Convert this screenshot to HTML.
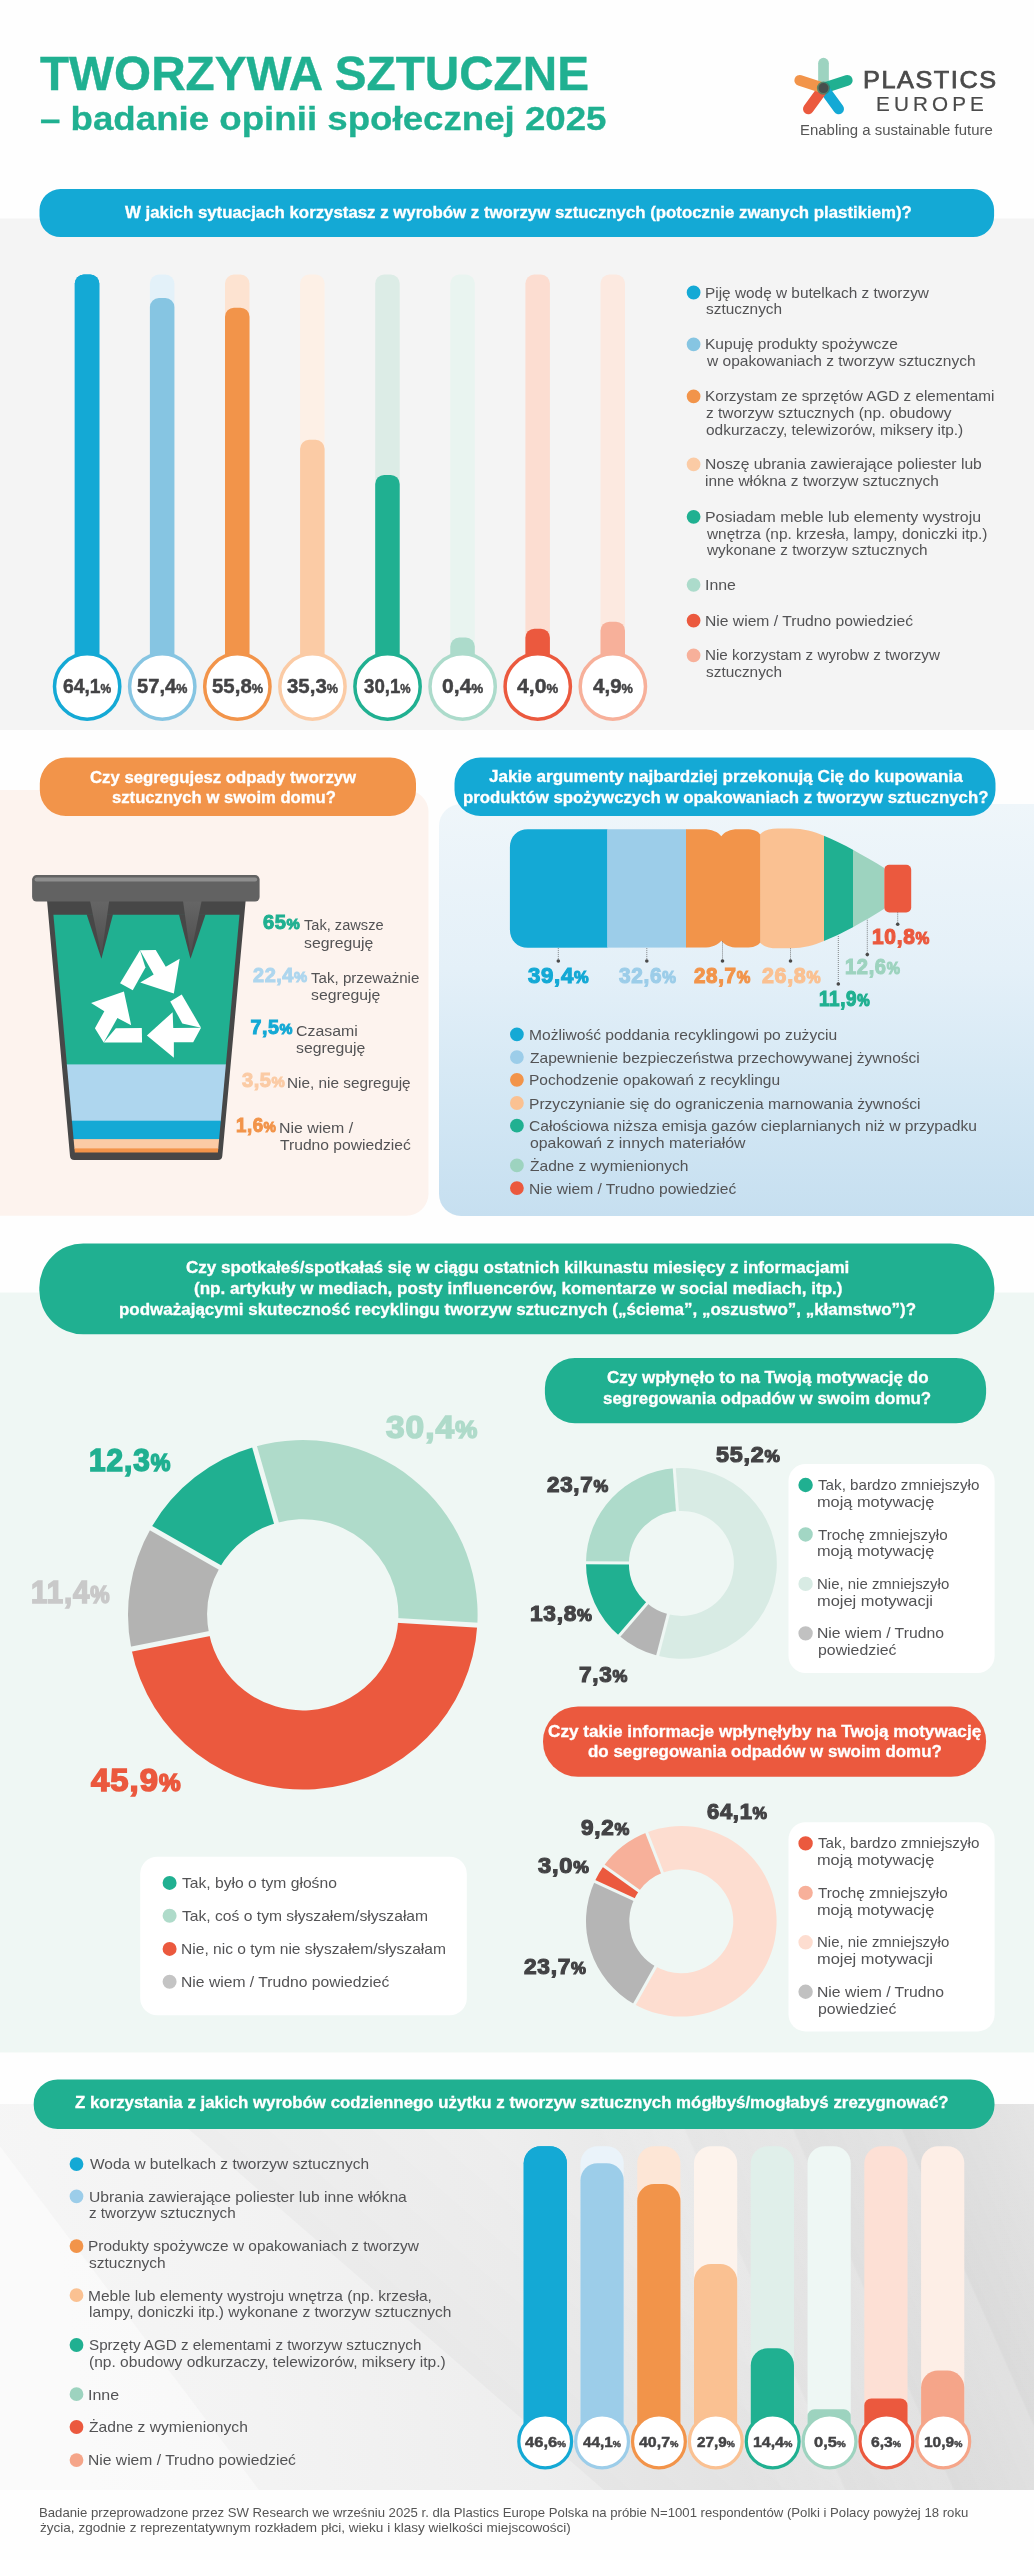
<!DOCTYPE html><html><head><meta charset="utf-8"><title>Tworzywa sztuczne</title><style>
html,body{margin:0;padding:0;overflow:hidden}body{width:1034px;height:2560px;position:relative;overflow:hidden;background:#fefefe;font-family:"Liberation Sans",sans-serif}
div,span.t,svg{position:absolute}span.t{white-space:nowrap;line-height:1;transform-origin:0 50%}
</style></head><body>
<div id="wrap" style="left:0;top:0;width:1034px;height:2560px;will-change:transform">
<svg style="left:784px;top:48px" width="80" height="80" viewBox="784 48 80 80"><line x1="823.50" y1="88.10" x2="823.50" y2="63.20" stroke="#9dd3c0" stroke-width="10.7" stroke-linecap="round"/><line x1="823.50" y1="88.10" x2="847.28" y2="80.37" stroke="#20b091" stroke-width="10.7" stroke-linecap="round"/><line x1="823.50" y1="88.10" x2="838.66" y2="108.97" stroke="#14a9d5" stroke-width="10.7" stroke-linecap="round"/><line x1="823.50" y1="88.10" x2="808.34" y2="108.97" stroke="#eb593e" stroke-width="10.7" stroke-linecap="round"/><line x1="823.50" y1="88.10" x2="799.72" y2="80.37" stroke="#f2944a" stroke-width="10.7" stroke-linecap="round"/><circle cx="823.5" cy="88.1" r="6.6" fill="#2f7f6c" opacity="0.75"/><circle cx="823.5" cy="88.1" r="5" fill="#474f4d"/></svg>
<svg style="left:0px;top:218px" width="1034" height="513" viewBox="0 218 1034 513"><path d="M0,218.5H1034V730.1H0V218.5Z" fill="#f4f4f4"/></svg>
<svg style="left:39px;top:189px" width="956" height="49" viewBox="39 189 956 49"><path d="M60.5,189.1H973.1A21,21 0 0 1 994.1,210.1V216.1A21,21 0 0 1 973.1,237.1H60.5A21,21 0 0 1 39.5,216.1V210.1A21,21 0 0 1 60.5,189.1Z" fill="#14a9d5"/></svg>
<svg style="left:74px;top:274px" width="26" height="401" viewBox="74 274 26 401"><path d="M83.8,274.6H90.3A9,9 0 0 1 99.3,283.6V674.6H74.8V283.6A9,9 0 0 1 83.8,274.6Z" fill="#14a9d5"/></svg>
<svg style="left:74px;top:274px" width="26" height="413" viewBox="74 274 26 413"><path d="M83.8,274.6H90.3A9,9 0 0 1 99.3,283.6V686.3H74.8V283.6A9,9 0 0 1 83.8,274.6Z" fill="#14a9d5"/></svg>
<svg style="left:51px;top:651px" width="72" height="72" viewBox="51 651 72 72"><circle cx="87.15" cy="686.50" r="32.65" fill="#fff" stroke="#14a9d5" stroke-width="3.5"/></svg>
<svg style="left:149px;top:274px" width="26" height="401" viewBox="149 274 26 401"><path d="M158.9,274.6H165.4A9,9 0 0 1 174.4,283.6V674.6H149.9V283.6A9,9 0 0 1 158.9,274.6Z" fill="#e3f1f9"/></svg>
<svg style="left:149px;top:298px" width="26" height="388" viewBox="149 298 26 388"><path d="M158.9,298H165.4A9,9 0 0 1 174.4,307V686H149.9V307A9,9 0 0 1 158.9,298Z" fill="#86c5e2"/></svg>
<svg style="left:126px;top:651px" width="72" height="72" viewBox="126 651 72 72"><circle cx="162.25" cy="686.50" r="32.65" fill="#fff" stroke="#86c5e2" stroke-width="3.5"/></svg>
<svg style="left:225px;top:274px" width="25" height="401" viewBox="225 274 25 401"><path d="M234,274.6H240.5A9,9 0 0 1 249.5,283.6V674.6H225V283.6A9,9 0 0 1 234,274.6Z" fill="#fde3d1"/></svg>
<svg style="left:225px;top:307px" width="25" height="379" viewBox="225 307 25 379"><path d="M234,307.7H240.5A9,9 0 0 1 249.5,316.7V686H225V316.7A9,9 0 0 1 234,307.7Z" fill="#f2944a"/></svg>
<svg style="left:201px;top:651px" width="72" height="72" viewBox="201 651 72 72"><circle cx="237.35" cy="686.50" r="32.65" fill="#fff" stroke="#f2944a" stroke-width="3.5"/></svg>
<svg style="left:300px;top:274px" width="25" height="401" viewBox="300 274 25 401"><path d="M309.1,274.6H315.6A9,9 0 0 1 324.6,283.6V674.6H300.1V283.6A9,9 0 0 1 309.1,274.6Z" fill="#fdf0e6"/></svg>
<svg style="left:300px;top:439px" width="25" height="247" viewBox="300 439 25 247"><path d="M309.1,439.8H315.6A9,9 0 0 1 324.6,448.8V686H300.1V448.8A9,9 0 0 1 309.1,439.8Z" fill="#fbcba5"/></svg>
<svg style="left:277px;top:651px" width="72" height="72" viewBox="277 651 72 72"><circle cx="312.45" cy="686.50" r="32.65" fill="#fff" stroke="#fbcba5" stroke-width="3.5"/></svg>
<svg style="left:375px;top:274px" width="25" height="401" viewBox="375 274 25 401"><path d="M384.2,274.6H390.7A9,9 0 0 1 399.7,283.6V674.6H375.2V283.6A9,9 0 0 1 384.2,274.6Z" fill="#dcece6"/></svg>
<svg style="left:375px;top:474px" width="25" height="212" viewBox="375 474 25 212"><path d="M384.2,474.9H390.7A9,9 0 0 1 399.7,483.9V686H375.2V483.9A9,9 0 0 1 384.2,474.9Z" fill="#20b091"/></svg>
<svg style="left:352px;top:651px" width="72" height="72" viewBox="352 651 72 72"><circle cx="387.55" cy="686.50" r="32.65" fill="#fff" stroke="#20b091" stroke-width="3.5"/></svg>
<svg style="left:450px;top:274px" width="25" height="401" viewBox="450 274 25 401"><path d="M459.3,274.6H465.8A9,9 0 0 1 474.8,283.6V674.6H450.3V283.6A9,9 0 0 1 459.3,274.6Z" fill="#e9f4f0"/></svg>
<svg style="left:450px;top:637px" width="25" height="49" viewBox="450 637 25 49"><path d="M459.3,637.6H465.8A9,9 0 0 1 474.8,646.6V686H450.3V646.6A9,9 0 0 1 459.3,637.6Z" fill="#acdbcb"/></svg>
<svg style="left:427px;top:651px" width="72" height="72" viewBox="427 651 72 72"><circle cx="462.65" cy="686.50" r="32.65" fill="#fff" stroke="#acdbcb" stroke-width="3.5"/></svg>
<svg style="left:525px;top:274px" width="25" height="401" viewBox="525 274 25 401"><path d="M534.4,274.6H540.9A9,9 0 0 1 549.9,283.6V674.6H525.4V283.6A9,9 0 0 1 534.4,274.6Z" fill="#fcddd1"/></svg>
<svg style="left:525px;top:628px" width="25" height="58" viewBox="525 628 25 58"><path d="M534.4,628.7H540.9A9,9 0 0 1 549.9,637.7V686H525.4V637.7A9,9 0 0 1 534.4,628.7Z" fill="#eb593e"/></svg>
<svg style="left:502px;top:651px" width="72" height="72" viewBox="502 651 72 72"><circle cx="537.75" cy="686.50" r="32.65" fill="#fff" stroke="#eb593e" stroke-width="3.5"/></svg>
<svg style="left:600px;top:274px" width="25" height="401" viewBox="600 274 25 401"><path d="M609.5,274.6H616A9,9 0 0 1 625,283.6V674.6H600.5V283.6A9,9 0 0 1 609.5,274.6Z" fill="#fce9e0"/></svg>
<svg style="left:600px;top:621px" width="25" height="65" viewBox="600 621 25 65"><path d="M609.5,621.7H616A9,9 0 0 1 625,630.7V686H600.5V630.7A9,9 0 0 1 609.5,621.7Z" fill="#f7b09a"/></svg>
<svg style="left:577px;top:651px" width="72" height="72" viewBox="577 651 72 72"><circle cx="612.85" cy="686.50" r="32.65" fill="#fff" stroke="#f7b09a" stroke-width="3.5"/></svg>
<svg style="left:686px;top:285px" width="15" height="15" viewBox="686 285 15 15"><path d="M693.6,285.6H693.6A6.9,6.9 0 0 1 700.5,292.5V292.5A6.9,6.9 0 0 1 693.6,299.4H693.6A6.9,6.9 0 0 1 686.7,292.5V292.5A6.9,6.9 0 0 1 693.6,285.6Z" fill="#14a9d5"/></svg>
<svg style="left:686px;top:337px" width="15" height="15" viewBox="686 337 15 15"><path d="M693.6,337.4H693.6A6.9,6.9 0 0 1 700.5,344.3V344.3A6.9,6.9 0 0 1 693.6,351.2H693.6A6.9,6.9 0 0 1 686.7,344.3V344.3A6.9,6.9 0 0 1 693.6,337.4Z" fill="#86c5e2"/></svg>
<svg style="left:686px;top:389px" width="15" height="15" viewBox="686 389 15 15"><path d="M693.6,389.4H693.6A6.9,6.9 0 0 1 700.5,396.3V396.3A6.9,6.9 0 0 1 693.6,403.2H693.6A6.9,6.9 0 0 1 686.7,396.3V396.3A6.9,6.9 0 0 1 693.6,389.4Z" fill="#f2944a"/></svg>
<svg style="left:686px;top:457px" width="15" height="15" viewBox="686 457 15 15"><path d="M693.6,457.4H693.6A6.9,6.9 0 0 1 700.5,464.3V464.3A6.9,6.9 0 0 1 693.6,471.2H693.6A6.9,6.9 0 0 1 686.7,464.3V464.3A6.9,6.9 0 0 1 693.6,457.4Z" fill="#fbcba5"/></svg>
<svg style="left:686px;top:509px" width="15" height="15" viewBox="686 509 15 15"><path d="M693.6,509.9H693.6A6.9,6.9 0 0 1 700.5,516.8V516.8A6.9,6.9 0 0 1 693.6,523.7H693.6A6.9,6.9 0 0 1 686.7,516.8V516.8A6.9,6.9 0 0 1 693.6,509.9Z" fill="#20b091"/></svg>
<svg style="left:686px;top:577px" width="15" height="15" viewBox="686 577 15 15"><path d="M693.6,577.9H693.6A6.9,6.9 0 0 1 700.5,584.8V584.8A6.9,6.9 0 0 1 693.6,591.7H693.6A6.9,6.9 0 0 1 686.7,584.8V584.8A6.9,6.9 0 0 1 693.6,577.9Z" fill="#acdbcb"/></svg>
<svg style="left:686px;top:613px" width="15" height="15" viewBox="686 613 15 15"><path d="M693.6,613.7H693.6A6.9,6.9 0 0 1 700.5,620.6V620.6A6.9,6.9 0 0 1 693.6,627.5H693.6A6.9,6.9 0 0 1 686.7,620.6V620.6A6.9,6.9 0 0 1 693.6,613.7Z" fill="#eb593e"/></svg>
<svg style="left:686px;top:648px" width="15" height="15" viewBox="686 648 15 15"><path d="M693.6,648.4H693.6A6.9,6.9 0 0 1 700.5,655.3V655.3A6.9,6.9 0 0 1 693.6,662.2H693.6A6.9,6.9 0 0 1 686.7,655.3V655.3A6.9,6.9 0 0 1 693.6,648.4Z" fill="#f7b09a"/></svg>
<svg style="left:0px;top:790px" width="429" height="426" viewBox="0 790 429 426"><path d="M0,790H406.5A22,22 0 0 1 428.5,812V1193.7A22,22 0 0 1 406.5,1215.7H0V790Z" fill="#fdf3ee"/></svg>
<svg style="left:39px;top:757px" width="377" height="60" viewBox="39 757 377 60"><path d="M65.8,757.6H390A26,26 0 0 1 416,783.6V790.1A26,26 0 0 1 390,816.1H65.8A26,26 0 0 1 39.8,790.1V783.6A26,26 0 0 1 65.8,757.6Z" fill="#f2944a"/></svg>
<svg style="left:20px;top:860px" width="260" height="312" viewBox="20 860 260 312"><defs><clipPath id="binin"><polygon points="53.4,914.8 239.5,914.8 217.9,1152.4 74.8,1152.4"/></clipPath><linearGradient id="spk" x1="0" y1="0" x2="0" y2="1"><stop offset="0" stop-color="#666"/><stop offset="1" stop-color="#4d4d4d"/></linearGradient></defs><path d="M46.9,899 L245.8,899 L222.3,1156 Q222,1160 218,1160 L74.2,1160 Q70.3,1160 70,1156 Z" fill="#474747"/><g clip-path="url(#binin)"><rect x="40" y="914" width="220" height="151" fill="#20b091"/><rect x="40" y="1064.4" width="220" height="57" fill="#aed6ee"/><rect x="40" y="1120.7" width="220" height="19" fill="#14a9d5"/><rect x="40" y="1139.1" width="220" height="10" fill="#fbcba5"/><rect x="40" y="1148.4" width="220" height="6" fill="#f2944a"/></g><polygon points="86.6,914.3 113,914.3 101.4,958.8" fill="#474747"/><polygon points="178.9,914.3 205.6,914.3 190.5,958.8" fill="#474747"/><polygon points="89.9,900 109.3,900 101.4,955.5" fill="url(#spk)"/><polygon points="182.9,900 201.8,900 190.5,955.5" fill="url(#spk)"/><rect x="32.1" y="875.1" width="227.5" height="26.4" rx="4.5" fill="#626262"/><rect x="34.5" y="877.4" width="222.7" height="4" rx="2" fill="#8e8e8e"/><g transform="translate(85,940) scale(0.12089)" fill="#fff"><polygon points="290,357 455,85 500,228 395,415"/><polygon points="455,85 585,82 668,222 783,155 735,442 457,352 568,285"/><polygon points="705,508 800,450 960,725 805,690"/><polygon points="960,725 895,845 735,845 735,975 512,790 725,597 730,728"/><polygon points="155,848 255,730 470,728 472,848"/><polygon points="155,848 82,730 160,590 50,522 322,425 382,705 268,645"/></g></svg>
<div style="left:439.0px;top:804.3px;width:595.0px;height:411.5px;background:linear-gradient(180deg,#eff6fa 0%,#e4f0f8 40%,#d3e7f4 72%,#c6dff0 100%);border-radius:22px 0 0 22px;"></div>
<svg style="left:454px;top:757px" width="542" height="60" viewBox="454 757 542 60"><path d="M480.5,757.6H969.5A26,26 0 0 1 995.5,783.6V790.1A26,26 0 0 1 969.5,816.1H480.5A26,26 0 0 1 454.5,790.1V783.6A26,26 0 0 1 480.5,757.6Z" fill="#14a9d5"/></svg>
<svg style="left:500px;top:815px" width="440" height="205" viewBox="500 815 440 205"><defs><clipPath id="bt"><path d="M527.9,829.2 L703,829.3 C712,829.3 718,832 721.3,836.2 C724.6,832 730,829.3 738,829.3 L746,829.3 C753,829.3 758,831 760.1,834.4 C763,830.5 770,828.6 777.5,828.6 L791.4,828.6 C803,828.6 814,831.5 823.9,835.8 C834,840 844,845 852.9,849.7 C864,856 875,862 884.3,868.1 L884.3,908.80 C875.00,914.90 864.00,920.90 852.90,927.20 C844.00,931.90 834.00,936.90 823.90,941.10 C814.00,945.40 803.00,948.30 791.40,948.30 L777.50,948.30 C770.00,948.30 763.00,946.40 760.10,942.50 C758.00,945.90 753.00,947.60 746.00,947.60 L738.00,947.60 C730.00,947.60 724.60,944.90 721.30,940.70 C718.00,944.90 712.00,947.60 703.00,947.60 L527.90,947.70 C517.5,947.7 509.9,940.5 509.9,929.7 L509.9,847.2 C509.9,836.5 517.5,829.2 527.9,829.2 Z"/></clipPath></defs><g clip-path="url(#bt)"><rect x="505" y="820" width="102.6" height="140" fill="#14a9d5"/><rect x="607.2" y="820" width="79.2" height="140" fill="#9ccde9"/><rect x="686" y="820" width="74.7" height="140" fill="#f2944a"/><rect x="760.3" y="820" width="64.1" height="140" fill="#fac192"/><rect x="824" y="820" width="29.4" height="140" fill="#20b091"/><rect x="853" y="820" width="37.4" height="140" fill="#9dd3bf"/></g><rect x="884.3" y="864.8" width="26.9" height="47.6" rx="5" fill="#eb593e"/><line x1="558.3" y1="948.2" x2="558.3" y2="961" stroke="#555" stroke-width="0.8" stroke-dasharray="0.9,1.1"/><circle cx="558.3" cy="961" r="1.8" fill="#4a4a4a"/><line x1="646.8" y1="948.2" x2="646.8" y2="961" stroke="#555" stroke-width="0.8" stroke-dasharray="0.9,1.1"/><circle cx="646.8" cy="961" r="1.8" fill="#4a4a4a"/><line x1="722.5" y1="941.5" x2="722.5" y2="961" stroke="#555" stroke-width="0.8" stroke-dasharray="0.9,1.1"/><circle cx="722.5" cy="961" r="1.8" fill="#4a4a4a"/><line x1="790.5" y1="948.4" x2="790.5" y2="961" stroke="#555" stroke-width="0.8" stroke-dasharray="0.9,1.1"/><circle cx="790.5" cy="961" r="1.8" fill="#4a4a4a"/><line x1="838.3" y1="936" x2="838.3" y2="984" stroke="#555" stroke-width="0.8" stroke-dasharray="0.9,1.1"/><circle cx="838.3" cy="984" r="1.8" fill="#4a4a4a"/><line x1="867.3" y1="919.8" x2="867.3" y2="954.6" stroke="#555" stroke-width="0.8" stroke-dasharray="0.9,1.1"/><circle cx="867.3" cy="954.6" r="1.8" fill="#4a4a4a"/><line x1="897.7" y1="912.4" x2="897.7" y2="924.2" stroke="#555" stroke-width="0.8" stroke-dasharray="0.9,1.1"/><circle cx="897.7" cy="924.2" r="1.8" fill="#4a4a4a"/></svg>
<svg style="left:510px;top:1027px" width="14" height="15" viewBox="510 1027 14 15"><path d="M516.9,1027.4H516.9A6.9,6.9 0 0 1 523.8,1034.3V1034.3A6.9,6.9 0 0 1 516.9,1041.2H516.9A6.9,6.9 0 0 1 510,1034.3V1034.3A6.9,6.9 0 0 1 516.9,1027.4Z" fill="#14a9d5"/></svg>
<svg style="left:510px;top:1050px" width="14" height="14" viewBox="510 1050 14 14"><path d="M516.9,1050.2H516.9A6.9,6.9 0 0 1 523.8,1057.1V1057.1A6.9,6.9 0 0 1 516.9,1064H516.9A6.9,6.9 0 0 1 510,1057.1V1057.1A6.9,6.9 0 0 1 516.9,1050.2Z" fill="#9ccde9"/></svg>
<svg style="left:510px;top:1072px" width="14" height="15" viewBox="510 1072 14 15"><path d="M516.9,1072.9H516.9A6.9,6.9 0 0 1 523.8,1079.8V1079.8A6.9,6.9 0 0 1 516.9,1086.7H516.9A6.9,6.9 0 0 1 510,1079.8V1079.8A6.9,6.9 0 0 1 516.9,1072.9Z" fill="#f2944a"/></svg>
<svg style="left:510px;top:1096px" width="14" height="14" viewBox="510 1096 14 14"><path d="M516.9,1096.1H516.9A6.9,6.9 0 0 1 523.8,1103V1103A6.9,6.9 0 0 1 516.9,1109.9H516.9A6.9,6.9 0 0 1 510,1103V1103A6.9,6.9 0 0 1 516.9,1096.1Z" fill="#fac192"/></svg>
<svg style="left:510px;top:1118px" width="14" height="15" viewBox="510 1118 14 15"><path d="M516.9,1118.8H516.9A6.9,6.9 0 0 1 523.8,1125.7V1125.7A6.9,6.9 0 0 1 516.9,1132.6H516.9A6.9,6.9 0 0 1 510,1125.7V1125.7A6.9,6.9 0 0 1 516.9,1118.8Z" fill="#20b091"/></svg>
<svg style="left:510px;top:1158px" width="14" height="15" viewBox="510 1158 14 15"><path d="M516.9,1158.5H516.9A6.9,6.9 0 0 1 523.8,1165.4V1165.4A6.9,6.9 0 0 1 516.9,1172.3H516.9A6.9,6.9 0 0 1 510,1165.4V1165.4A6.9,6.9 0 0 1 516.9,1158.5Z" fill="#9dd3bf"/></svg>
<svg style="left:510px;top:1181px" width="14" height="14" viewBox="510 1181 14 14"><path d="M516.9,1181.2H516.9A6.9,6.9 0 0 1 523.8,1188.1V1188.1A6.9,6.9 0 0 1 516.9,1195H516.9A6.9,6.9 0 0 1 510,1188.1V1188.1A6.9,6.9 0 0 1 516.9,1181.2Z" fill="#eb593e"/></svg>
<svg style="left:0px;top:1292px" width="1034" height="761" viewBox="0 1292 1034 761"><path d="M0,1292.6H1034V2052.4H0V1292.6Z" fill="#eff7f4"/></svg>
<svg style="left:39px;top:1243px" width="956" height="92" viewBox="39 1243 956 92"><path d="M83.3,1243.5H950.4A44,44 0 0 1 994.4,1287.5V1290.3A44,44 0 0 1 950.4,1334.3H83.3A44,44 0 0 1 39.3,1290.3V1287.5A44,44 0 0 1 83.3,1243.5Z" fill="#20b091"/></svg>
<svg style="left:125.9px;top:1438.2px" width="353.6" height="353.6" viewBox="125.9 1438.2 353.6 353.6"><path d="M150.86,1528.39 A174.8,174.8 0 0 1 254.46,1446.99 L276.32,1523.11 A95.6,95.6 0 0 0 219.66,1567.63 Z" fill="#20b091"/><path d="M254.46,1446.99 A174.8,174.8 0 0 1 477.19,1625.43 L398.13,1620.70 A95.6,95.6 0 0 0 276.32,1523.11 Z" fill="#afdbca"/><path d="M477.19,1625.43 A174.8,174.8 0 0 1 131.31,1649.37 L208.97,1633.80 A95.6,95.6 0 0 0 398.13,1620.70 Z" fill="#eb593e"/><path d="M131.31,1649.37 A174.8,174.8 0 0 1 150.86,1528.39 L219.66,1567.63 A95.6,95.6 0 0 0 208.97,1633.80 Z" fill="#b3b3b2"/><line x1="221.40" y1="1568.63" x2="149.13" y2="1527.40" stroke="#eff7f4" stroke-width="5"/><line x1="276.87" y1="1525.03" x2="253.91" y2="1445.07" stroke="#eff7f4" stroke-width="5"/><line x1="396.13" y1="1620.58" x2="479.19" y2="1625.55" stroke="#eff7f4" stroke-width="5"/><line x1="210.93" y1="1633.40" x2="129.35" y2="1649.76" stroke="#eff7f4" stroke-width="5"/></svg>
<svg style="left:140px;top:1856px" width="327" height="160" viewBox="140 1856 327 160"><path d="M157.2,1856.8H449.8A17,17 0 0 1 466.8,1873.8V1998.3A17,17 0 0 1 449.8,2015.3H157.2A17,17 0 0 1 140.2,1998.3V1873.8A17,17 0 0 1 157.2,1856.8Z" fill="#fff"/></svg>
<svg style="left:162px;top:1875px" width="15" height="15" viewBox="162 1875 15 15"><path d="M169.6,1875.9H169.6A7,7 0 0 1 176.6,1882.9V1882.9A7,7 0 0 1 169.6,1889.9H169.6A7,7 0 0 1 162.6,1882.9V1882.9A7,7 0 0 1 169.6,1875.9Z" fill="#20b091"/></svg>
<svg style="left:162px;top:1908px" width="15" height="15" viewBox="162 1908 15 15"><path d="M169.6,1908.8H169.6A7,7 0 0 1 176.6,1915.8V1915.8A7,7 0 0 1 169.6,1922.8H169.6A7,7 0 0 1 162.6,1915.8V1915.8A7,7 0 0 1 169.6,1908.8Z" fill="#afdbca"/></svg>
<svg style="left:162px;top:1941px" width="15" height="15" viewBox="162 1941 15 15"><path d="M169.6,1941.9H169.6A7,7 0 0 1 176.6,1948.9V1948.9A7,7 0 0 1 169.6,1955.9H169.6A7,7 0 0 1 162.6,1948.9V1948.9A7,7 0 0 1 169.6,1941.9Z" fill="#eb593e"/></svg>
<svg style="left:162px;top:1974px" width="15" height="15" viewBox="162 1974 15 15"><path d="M169.6,1974.8H169.6A7,7 0 0 1 176.6,1981.8V1981.8A7,7 0 0 1 169.6,1988.8H169.6A7,7 0 0 1 162.6,1981.8V1981.8A7,7 0 0 1 169.6,1974.8Z" fill="#c4c4c4"/></svg>
<svg style="left:544px;top:1357px" width="443" height="67" viewBox="544 1357 443 67"><path d="M574.9,1357.9H956.1A30,30 0 0 1 986.1,1387.9V1393.3A30,30 0 0 1 956.1,1423.3H574.9A30,30 0 0 1 544.9,1393.3V1387.9A30,30 0 0 1 574.9,1357.9Z" fill="#20b091"/></svg>
<svg style="left:543px;top:1706px" width="444" height="71" viewBox="543 1706 444 71"><path d="M578,1706.4H951.1A35,35 0 0 1 986.1,1741.4V1741.8A35,35 0 0 1 951.1,1776.8H578A35,35 0 0 1 543,1741.8V1741.4A35,35 0 0 1 578,1706.4Z" fill="#eb593e"/></svg>
<svg style="left:583.8px;top:1465.6px" width="194.8" height="194.8" viewBox="583.8 1465.6 194.8 194.8"><path d="M674.05,1467.87 A95.4,95.4 0 1 1 657.44,1655.39 L668.13,1613.85 A52.5,52.5 0 1 0 677.26,1510.65 Z" fill="#d8ebe4"/><path d="M657.44,1655.39 A95.4,95.4 0 0 1 618.99,1635.33 L646.96,1602.80 A52.5,52.5 0 0 0 668.13,1613.85 Z" fill="#b4b4b4"/><path d="M618.99,1635.33 A95.4,95.4 0 0 1 585.80,1562.37 L628.70,1562.65 A52.5,52.5 0 0 0 646.96,1602.80 Z" fill="#20b091"/><path d="M585.80,1562.37 A95.4,95.4 0 0 1 674.05,1467.87 L677.26,1510.65 A52.5,52.5 0 0 0 628.70,1562.65 Z" fill="#aedbcb"/><line x1="677.41" y1="1512.64" x2="673.90" y2="1465.87" stroke="#eff7f4" stroke-width="3"/><line x1="668.62" y1="1611.91" x2="656.94" y2="1657.33" stroke="#eff7f4" stroke-width="3"/><line x1="648.27" y1="1601.29" x2="617.69" y2="1636.84" stroke="#eff7f4" stroke-width="3"/><line x1="630.70" y1="1562.67" x2="583.80" y2="1562.35" stroke="#eff7f4" stroke-width="3"/></svg>
<svg style="left:584.0px;top:1824.0px" width="194.6" height="194.6" viewBox="584.0 1824.0 194.6 194.6"><path d="M646.68,1832.51 A95.3,95.3 0 1 1 634.43,2004.28 L655.73,1966.58 A52,52 0 1 0 662.41,1872.85 Z" fill="#fdddd0"/><path d="M634.43,2004.28 A95.3,95.3 0 0 1 594.77,1881.36 L634.09,1899.50 A52,52 0 0 0 655.73,1966.58 Z" fill="#b5b5b5"/><path d="M594.77,1881.36 A95.3,95.3 0 0 1 603.79,1865.85 L639.01,1891.04 A52,52 0 0 0 634.09,1899.50 Z" fill="#eb593e"/><path d="M603.79,1865.85 A95.3,95.3 0 0 1 646.68,1832.51 L662.41,1872.85 A52,52 0 0 0 639.01,1891.04 Z" fill="#f7b09a"/><line x1="663.14" y1="1874.72" x2="645.96" y2="1830.65" stroke="#eff7f4" stroke-width="3"/><line x1="656.71" y1="1964.83" x2="633.45" y2="2006.02" stroke="#eff7f4" stroke-width="3"/><line x1="635.90" y1="1900.34" x2="592.96" y2="1880.52" stroke="#eff7f4" stroke-width="3"/><line x1="640.63" y1="1892.21" x2="602.17" y2="1864.69" stroke="#eff7f4" stroke-width="3"/></svg>
<svg style="left:788px;top:1463px" width="207" height="210" viewBox="788 1463 207 210"><path d="M805.5,1463.9H977.6A17,17 0 0 1 994.6,1480.9V1656A17,17 0 0 1 977.6,1673H805.5A17,17 0 0 1 788.5,1656V1480.9A17,17 0 0 1 805.5,1463.9Z" fill="#fff"/></svg>
<svg style="left:798px;top:1477px" width="15" height="16" viewBox="798 1477 15 16"><path d="M805.6,1477.8H805.6A7.2,7.2 0 0 1 812.8,1485V1485A7.2,7.2 0 0 1 805.6,1492.2H805.6A7.2,7.2 0 0 1 798.4,1485V1485A7.2,7.2 0 0 1 805.6,1477.8Z" fill="#20b091"/></svg>
<svg style="left:798px;top:1527px" width="15" height="15" viewBox="798 1527 15 15"><path d="M805.6,1527.25H805.6A7.2,7.2 0 0 1 812.8,1534.45V1534.45A7.2,7.2 0 0 1 805.6,1541.65H805.6A7.2,7.2 0 0 1 798.4,1534.45V1534.45A7.2,7.2 0 0 1 805.6,1527.25Z" fill="#a2d6c4"/></svg>
<svg style="left:798px;top:1576px" width="15" height="16" viewBox="798 1576 15 16"><path d="M805.6,1576.7H805.6A7.2,7.2 0 0 1 812.8,1583.9V1583.9A7.2,7.2 0 0 1 805.6,1591.1H805.6A7.2,7.2 0 0 1 798.4,1583.9V1583.9A7.2,7.2 0 0 1 805.6,1576.7Z" fill="#d8ebe4"/></svg>
<svg style="left:798px;top:1626px" width="15" height="15" viewBox="798 1626 15 15"><path d="M805.6,1626.15H805.6A7.2,7.2 0 0 1 812.8,1633.35V1633.35A7.2,7.2 0 0 1 805.6,1640.55H805.6A7.2,7.2 0 0 1 798.4,1633.35V1633.35A7.2,7.2 0 0 1 805.6,1626.15Z" fill="#c1c1c1"/></svg>
<svg style="left:788px;top:1822px" width="207" height="210" viewBox="788 1822 207 210"><path d="M805.5,1822.3H977.6A17,17 0 0 1 994.6,1839.3V2014.4A17,17 0 0 1 977.6,2031.4H805.5A17,17 0 0 1 788.5,2014.4V1839.3A17,17 0 0 1 805.5,1822.3Z" fill="#fff"/></svg>
<svg style="left:798px;top:1836px" width="15" height="15" viewBox="798 1836 15 15"><path d="M805.6,1836.2H805.6A7.2,7.2 0 0 1 812.8,1843.4V1843.4A7.2,7.2 0 0 1 805.6,1850.6H805.6A7.2,7.2 0 0 1 798.4,1843.4V1843.4A7.2,7.2 0 0 1 805.6,1836.2Z" fill="#eb593e"/></svg>
<svg style="left:798px;top:1885px" width="15" height="16" viewBox="798 1885 15 16"><path d="M805.6,1885.65H805.6A7.2,7.2 0 0 1 812.8,1892.85V1892.85A7.2,7.2 0 0 1 805.6,1900.05H805.6A7.2,7.2 0 0 1 798.4,1892.85V1892.85A7.2,7.2 0 0 1 805.6,1885.65Z" fill="#f7b09a"/></svg>
<svg style="left:798px;top:1935px" width="15" height="15" viewBox="798 1935 15 15"><path d="M805.6,1935.1H805.6A7.2,7.2 0 0 1 812.8,1942.3V1942.3A7.2,7.2 0 0 1 805.6,1949.5H805.6A7.2,7.2 0 0 1 798.4,1942.3V1942.3A7.2,7.2 0 0 1 805.6,1935.1Z" fill="#fdddd0"/></svg>
<svg style="left:798px;top:1984px" width="15" height="15" viewBox="798 1984 15 15"><path d="M805.6,1984.55H805.6A7.2,7.2 0 0 1 812.8,1991.75V1991.75A7.2,7.2 0 0 1 805.6,1998.95H805.6A7.2,7.2 0 0 1 798.4,1991.75V1991.75A7.2,7.2 0 0 1 805.6,1984.55Z" fill="#c1c1c1"/></svg>
<div style="left:0.0px;top:2104.2px;width:1034.0px;height:386.2px;background:linear-gradient(53deg,rgba(255,255,255,.45) 0,rgba(255,255,255,.45) 19.5%,rgba(255,255,255,0) 19.6%,rgba(255,255,255,0) 100%),linear-gradient(41deg,rgba(0,0,0,0) 0,rgba(0,0,0,0) 40.8%,rgba(0,0,0,.022) 40.9%,rgba(0,0,0,0) 62%,rgba(0,0,0,0) 100%),linear-gradient(66deg,rgba(255,255,255,0) 0,rgba(255,255,255,0) 62%,rgba(255,255,255,.16) 70%,rgba(255,255,255,0) 70.2%,rgba(255,255,255,.16) 79%,rgba(255,255,255,0) 79.2%,rgba(255,255,255,.18) 88%,rgba(255,255,255,0) 88.2%,rgba(255,255,255,.3) 100%),linear-gradient(82deg,#f6f6f6 0%,#f3f3f3 25%,#eeeeee 50%,#e6e6e6 68%,#dcdcdc 88%,#dadada 100%);border-radius:0px;"></div>
<svg style="left:33px;top:2079px" width="962" height="51" viewBox="33 2079 962 51"><path d="M57.7,2079.5H970.5A24,24 0 0 1 994.5,2103.5V2105.1A24,24 0 0 1 970.5,2129.1H57.7A24,24 0 0 1 33.7,2105.1V2103.5A24,24 0 0 1 57.7,2079.5Z" fill="#20b091"/></svg>
<svg style="left:69px;top:2157px" width="15" height="14" viewBox="69 2157 15 14"><path d="M76.5,2157.2H76.5A6.9,6.9 0 0 1 83.4,2164.1V2164.1A6.9,6.9 0 0 1 76.5,2171H76.5A6.9,6.9 0 0 1 69.6,2164.1V2164.1A6.9,6.9 0 0 1 76.5,2157.2Z" fill="#14a9d5"/></svg>
<svg style="left:69px;top:2189px" width="15" height="15" viewBox="69 2189 15 15"><path d="M76.5,2189.4H76.5A6.9,6.9 0 0 1 83.4,2196.3V2196.3A6.9,6.9 0 0 1 76.5,2203.2H76.5A6.9,6.9 0 0 1 69.6,2196.3V2196.3A6.9,6.9 0 0 1 76.5,2189.4Z" fill="#9ccde9"/></svg>
<svg style="left:69px;top:2239px" width="15" height="14" viewBox="69 2239 15 14"><path d="M76.5,2239.2H76.5A6.9,6.9 0 0 1 83.4,2246.1V2246.1A6.9,6.9 0 0 1 76.5,2253H76.5A6.9,6.9 0 0 1 69.6,2246.1V2246.1A6.9,6.9 0 0 1 76.5,2239.2Z" fill="#f2944a"/></svg>
<svg style="left:69px;top:2288px" width="15" height="15" viewBox="69 2288 15 15"><path d="M76.5,2288.3H76.5A6.9,6.9 0 0 1 83.4,2295.2V2295.2A6.9,6.9 0 0 1 76.5,2302.1H76.5A6.9,6.9 0 0 1 69.6,2295.2V2295.2A6.9,6.9 0 0 1 76.5,2288.3Z" fill="#fac192"/></svg>
<svg style="left:69px;top:2338px" width="15" height="14" viewBox="69 2338 15 14"><path d="M76.5,2338.1H76.5A6.9,6.9 0 0 1 83.4,2345V2345A6.9,6.9 0 0 1 76.5,2351.9H76.5A6.9,6.9 0 0 1 69.6,2345V2345A6.9,6.9 0 0 1 76.5,2338.1Z" fill="#20b091"/></svg>
<svg style="left:69px;top:2387px" width="15" height="15" viewBox="69 2387 15 15"><path d="M76.5,2387.3H76.5A6.9,6.9 0 0 1 83.4,2394.2V2394.2A6.9,6.9 0 0 1 76.5,2401.1H76.5A6.9,6.9 0 0 1 69.6,2394.2V2394.2A6.9,6.9 0 0 1 76.5,2387.3Z" fill="#9dd3bf"/></svg>
<svg style="left:69px;top:2420px" width="15" height="14" viewBox="69 2420 15 14"><path d="M76.5,2420.1H76.5A6.9,6.9 0 0 1 83.4,2427V2427A6.9,6.9 0 0 1 76.5,2433.9H76.5A6.9,6.9 0 0 1 69.6,2427V2427A6.9,6.9 0 0 1 76.5,2420.1Z" fill="#eb593e"/></svg>
<svg style="left:69px;top:2453px" width="15" height="14" viewBox="69 2453 15 14"><path d="M76.5,2453.2H76.5A6.9,6.9 0 0 1 83.4,2460.1V2460.1A6.9,6.9 0 0 1 76.5,2467H76.5A6.9,6.9 0 0 1 69.6,2460.1V2460.1A6.9,6.9 0 0 1 76.5,2453.2Z" fill="#f5a589"/></svg>
<svg style="left:523px;top:2146px" width="44" height="291" viewBox="523 2146 44 291"><path d="M540.7,2146.3H549.9A17,17 0 0 1 566.9,2163.3V2436.3H523.7V2163.3A17,17 0 0 1 540.7,2146.3Z" fill="#14a9d5"/></svg>
<svg style="left:523px;top:2146px" width="44" height="294" viewBox="523 2146 44 294"><path d="M540.7,2146.3H549.9A17,17 0 0 1 566.9,2163.3V2440H523.7V2163.3A17,17 0 0 1 540.7,2146.3Z" fill="#14a9d5"/></svg>
<svg style="left:516px;top:2412px" width="59" height="59" viewBox="516 2412 59 59"><circle cx="545.20" cy="2441.40" r="26.40" fill="#fff" stroke="#14a9d5" stroke-width="3.2"/></svg>
<svg style="left:580px;top:2146px" width="44" height="291" viewBox="580 2146 44 291"><path d="M597.47,2146.3H606.67A17,17 0 0 1 623.67,2163.3V2436.3H580.47V2163.3A17,17 0 0 1 597.47,2146.3Z" fill="#eaf3fa"/></svg>
<svg style="left:580px;top:2163px" width="44" height="277" viewBox="580 2163 44 277"><path d="M597.47,2163.3H606.67A17,17 0 0 1 623.67,2180.3V2440H580.47V2180.3A17,17 0 0 1 597.47,2163.3Z" fill="#9ccde9"/></svg>
<svg style="left:573px;top:2412px" width="59" height="59" viewBox="573 2412 59 59"><circle cx="602.07" cy="2441.40" r="26.40" fill="#fff" stroke="#9ccde9" stroke-width="3.2"/></svg>
<svg style="left:637px;top:2146px" width="44" height="291" viewBox="637 2146 44 291"><path d="M654.24,2146.3H663.44A17,17 0 0 1 680.44,2163.3V2436.3H637.24V2163.3A17,17 0 0 1 654.24,2146.3Z" fill="#fde6d6"/></svg>
<svg style="left:637px;top:2184px" width="44" height="256" viewBox="637 2184 44 256"><path d="M654.24,2184H663.44A17,17 0 0 1 680.44,2201V2440H637.24V2201A17,17 0 0 1 654.24,2184Z" fill="#f2944a"/></svg>
<svg style="left:629px;top:2412px" width="59" height="59" viewBox="629 2412 59 59"><circle cx="658.94" cy="2441.40" r="26.40" fill="#fff" stroke="#f2944a" stroke-width="3.2"/></svg>
<svg style="left:694px;top:2146px" width="44" height="291" viewBox="694 2146 44 291"><path d="M711.01,2146.3H720.21A17,17 0 0 1 737.21,2163.3V2436.3H694.01V2163.3A17,17 0 0 1 711.01,2146.3Z" fill="#fdf3ec"/></svg>
<svg style="left:694px;top:2264px" width="44" height="176" viewBox="694 2264 44 176"><path d="M711.01,2264H720.21A17,17 0 0 1 737.21,2281V2440H694.01V2281A17,17 0 0 1 711.01,2264Z" fill="#fac192"/></svg>
<svg style="left:686px;top:2412px" width="59" height="59" viewBox="686 2412 59 59"><circle cx="715.81" cy="2441.40" r="26.40" fill="#fff" stroke="#fac192" stroke-width="3.2"/></svg>
<svg style="left:750px;top:2146px" width="44" height="291" viewBox="750 2146 44 291"><path d="M767.78,2146.3H776.98A17,17 0 0 1 793.98,2163.3V2436.3H750.78V2163.3A17,17 0 0 1 767.78,2146.3Z" fill="#e0efea"/></svg>
<svg style="left:750px;top:2348px" width="44" height="92" viewBox="750 2348 44 92"><path d="M767.78,2348.3H776.98A17,17 0 0 1 793.98,2365.3V2440H750.78V2365.3A17,17 0 0 1 767.78,2348.3Z" fill="#20b091"/></svg>
<svg style="left:743px;top:2412px" width="59" height="59" viewBox="743 2412 59 59"><circle cx="772.68" cy="2441.40" r="26.40" fill="#fff" stroke="#20b091" stroke-width="3.2"/></svg>
<svg style="left:807px;top:2146px" width="44" height="291" viewBox="807 2146 44 291"><path d="M824.55,2146.3H833.75A17,17 0 0 1 850.75,2163.3V2436.3H807.55V2163.3A17,17 0 0 1 824.55,2146.3Z" fill="#eef7f4"/></svg>
<svg style="left:807px;top:2409px" width="44" height="31" viewBox="807 2409 44 31"><path d="M814.55,2409.2H843.75A7,7 0 0 1 850.75,2416.2V2440H807.55V2416.2A7,7 0 0 1 814.55,2409.2Z" fill="#9dd3bf"/></svg>
<svg style="left:800px;top:2412px" width="59" height="59" viewBox="800 2412 59 59"><circle cx="829.55" cy="2441.40" r="26.40" fill="#fff" stroke="#9dd3bf" stroke-width="3.2"/></svg>
<svg style="left:864px;top:2146px" width="44" height="291" viewBox="864 2146 44 291"><path d="M881.32,2146.3H890.52A17,17 0 0 1 907.52,2163.3V2436.3H864.32V2163.3A17,17 0 0 1 881.32,2146.3Z" fill="#fde0d5"/></svg>
<svg style="left:864px;top:2398px" width="44" height="42" viewBox="864 2398 44 42"><path d="M871.32,2398.4H900.52A7,7 0 0 1 907.52,2405.4V2440H864.32V2405.4A7,7 0 0 1 871.32,2398.4Z" fill="#eb593e"/></svg>
<svg style="left:857px;top:2412px" width="59" height="59" viewBox="857 2412 59 59"><circle cx="886.42" cy="2441.40" r="26.40" fill="#fff" stroke="#eb593e" stroke-width="3.2"/></svg>
<svg style="left:921px;top:2146px" width="44" height="291" viewBox="921 2146 44 291"><path d="M938.09,2146.3H947.29A17,17 0 0 1 964.29,2163.3V2436.3H921.09V2163.3A17,17 0 0 1 938.09,2146.3Z" fill="#fdeee6"/></svg>
<svg style="left:921px;top:2370px" width="44" height="70" viewBox="921 2370 44 70"><path d="M938.09,2370.5H947.29A17,17 0 0 1 964.29,2387.5V2440H921.09V2387.5A17,17 0 0 1 938.09,2370.5Z" fill="#f5a589"/></svg>
<svg style="left:914px;top:2412px" width="59" height="59" viewBox="914 2412 59 59"><circle cx="943.29" cy="2441.40" r="26.40" fill="#fff" stroke="#f5a589" stroke-width="3.2"/></svg>
<span class="t" style="top:50.0px;font-size:47.2px;color:#20b091;font-weight:700;-webkit-text-stroke:0.4px #20b091;left:39.50px;transform:scaleX(1.0101);">TWORZYWA SZTUCZNE</span>
<span class="t" style="top:102.0px;font-size:33.9px;color:#20b091;font-weight:700;-webkit-text-stroke:0.3px #20b091;left:40.19px;transform:scaleX(1.0819);">– badanie opinii społecznej 2025</span>
<span class="t" style="top:68.1px;font-size:24.5px;color:#4a4a4a;font-weight:400;-webkit-text-stroke:0.75px #4a4a4a;letter-spacing:1.5px;left:862.61px;transform:scaleX(1.0318);">PLASTICS</span>
<span class="t" style="top:94.3px;font-size:20px;color:#4a4a4a;font-weight:400;-webkit-text-stroke:0.2px #4a4a4a;letter-spacing:4px;left:875.59px;transform:scaleX(1.0327);">EUROPE</span>
<span class="t" style="top:124.2px;font-size:13.8px;color:#555;font-weight:400;left:800.03px;transform:scaleX(1.0830);">Enabling a sustainable future</span>
<span class="t" style="top:204.8px;font-size:15.8px;color:#fff;font-weight:700;-webkit-text-stroke:0.3px #fff;left:124.51px;transform:scaleX(1.0646);">W jakich sytuacjach korzystasz z wyrobów z tworzyw sztucznych (potocznie zwanych plastikiem)?</span>
<span class="t" style="top:676.4px;font-size:20px;color:#434345;font-weight:700;-webkit-text-stroke:0.45px #434345;left:62.71px;transform:scaleX(0.9657);">64,1<span style="font-size:12.4px;letter-spacing:0">%</span></span>
<span class="t" style="top:676.4px;font-size:20px;color:#434345;font-weight:700;-webkit-text-stroke:0.45px #434345;left:136.86px;transform:scaleX(1.0098);">57,4<span style="font-size:12.4px;letter-spacing:0">%</span></span>
<span class="t" style="top:676.4px;font-size:20px;color:#434345;font-weight:700;-webkit-text-stroke:0.45px #434345;left:211.66px;transform:scaleX(1.0218);">55,8<span style="font-size:12.4px;letter-spacing:0">%</span></span>
<span class="t" style="top:676.4px;font-size:20px;color:#434345;font-weight:700;-webkit-text-stroke:0.45px #434345;left:286.76px;transform:scaleX(1.0218);">35,3<span style="font-size:12.4px;letter-spacing:0">%</span></span>
<span class="t" style="top:676.4px;font-size:20px;color:#434345;font-weight:700;-webkit-text-stroke:0.45px #434345;left:364.07px;transform:scaleX(0.9336);">30,1<span style="font-size:12.4px;letter-spacing:0">%</span></span>
<span class="t" style="top:676.4px;font-size:20px;color:#434345;font-weight:700;-webkit-text-stroke:0.45px #434345;left:441.73px;transform:scaleX(1.0604);">0,4<span style="font-size:12.4px;letter-spacing:0">%</span></span>
<span class="t" style="top:676.4px;font-size:20px;color:#434345;font-weight:700;-webkit-text-stroke:0.45px #434345;left:517.14px;transform:scaleX(1.0613);">4,0<span style="font-size:12.4px;letter-spacing:0">%</span></span>
<span class="t" style="top:676.4px;font-size:20px;color:#434345;font-weight:700;-webkit-text-stroke:0.45px #434345;left:592.88px;transform:scaleX(1.0281);">4,9<span style="font-size:12.4px;letter-spacing:0">%</span></span>
<span class="t" style="top:285.6px;font-size:14.8px;color:#535355;font-weight:400;left:705.10px;transform:scaleX(1.0395);">Piję wodę w butelkach z tworzyw</span>
<span class="t" style="top:302.3px;font-size:14.8px;color:#535355;font-weight:400;left:706.06px;transform:scaleX(1.0396);">sztucznych</span>
<span class="t" style="top:337.4px;font-size:14.8px;color:#535355;font-weight:400;left:705.08px;transform:scaleX(1.0512);">Kupuję produkty spożywcze</span>
<span class="t" style="top:354.1px;font-size:14.8px;color:#535355;font-weight:400;left:706.54px;transform:scaleX(1.0501);">w opakowaniach z tworzyw sztucznych</span>
<span class="t" style="top:389.4px;font-size:14.8px;color:#535355;font-weight:400;left:705.11px;transform:scaleX(1.0317);">Korzystam ze sprzętów AGD z elementami</span>
<span class="t" style="top:406.1px;font-size:14.8px;color:#535355;font-weight:400;left:705.82px;transform:scaleX(1.0435);">z tworzyw sztucznych (np. obudowy</span>
<span class="t" style="top:422.8px;font-size:14.8px;color:#535355;font-weight:400;left:705.82px;transform:scaleX(1.0439);">odkurzaczy, telewizorów, miksery itp.)</span>
<span class="t" style="top:457.4px;font-size:14.8px;color:#535355;font-weight:400;left:705.08px;transform:scaleX(1.0583);">Noszę ubrania zawierające poliester lub</span>
<span class="t" style="top:474.1px;font-size:14.8px;color:#535355;font-weight:400;left:705.34px;transform:scaleX(1.0413);">inne włókna z tworzyw sztucznych</span>
<span class="t" style="top:509.9px;font-size:14.8px;color:#535355;font-weight:400;left:705.06px;transform:scaleX(1.0759);">Posiadam meble lub elementy wystroju</span>
<span class="t" style="top:526.6px;font-size:14.8px;color:#535355;font-weight:400;left:706.54px;transform:scaleX(1.0410);">wnętrza (np. krzesła, lampy, doniczki itp.)</span>
<span class="t" style="top:543.3px;font-size:14.8px;color:#535355;font-weight:400;left:706.54px;transform:scaleX(1.0356);">wykonane z tworzyw sztucznych</span>
<span class="t" style="top:577.9px;font-size:14.8px;color:#535355;font-weight:400;left:705.06px;transform:scaleX(1.0721);">Inne</span>
<span class="t" style="top:613.7px;font-size:14.8px;color:#535355;font-weight:400;left:705.08px;transform:scaleX(1.0589);">Nie wiem / Trudno powiedzieć</span>
<span class="t" style="top:648.4px;font-size:14.8px;color:#535355;font-weight:400;left:705.11px;transform:scaleX(1.0280);">Nie korzystam z wyrobw z tworzyw</span>
<span class="t" style="top:665.1px;font-size:14.8px;color:#535355;font-weight:400;left:706.06px;transform:scaleX(1.0396);">sztucznych</span>
<span class="t" style="top:769.6px;font-size:15.8px;color:#fff;font-weight:700;-webkit-text-stroke:0.3px #fff;left:90.44px;transform:scaleX(1.0599);">Czy segregujesz odpady tworzyw</span>
<span class="t" style="top:790.1px;font-size:15.8px;color:#fff;font-weight:700;-webkit-text-stroke:0.3px #fff;left:112.14px;transform:scaleX(1.0544);">sztucznych w swoim domu?</span>
<span class="t" style="top:912.9px;font-size:19.79px;color:#20b091;font-weight:700;-webkit-text-stroke:1.0px #20b091;letter-spacing:0.55px;left:263.28px;transform:scaleX(1.0164);">65<span style="font-size:14.64px;letter-spacing:0">%</span></span>
<span class="t" style="top:918.3px;font-size:14px;color:#535355;font-weight:400;left:303.87px;transform:scaleX(1.0442);">Tak, zawsze</span>
<span class="t" style="top:935.5px;font-size:14px;color:#535355;font-weight:400;left:303.85px;transform:scaleX(1.1284);">segreguję</span>
<span class="t" style="top:965.7px;font-size:19.65px;color:#aed6ee;font-weight:700;-webkit-text-stroke:1.0px #aed6ee;letter-spacing:0.55px;left:253.28px;transform:scaleX(1.0140);">22,4<span style="font-size:14.54px;letter-spacing:0">%</span></span>
<span class="t" style="top:970.9px;font-size:14px;color:#535355;font-weight:400;left:311.36px;transform:scaleX(1.0794);">Tak, przeważnie</span>
<span class="t" style="top:988.2px;font-size:14px;color:#535355;font-weight:400;left:311.35px;transform:scaleX(1.1284);">segreguję</span>
<span class="t" style="top:1018.3px;font-size:19.65px;color:#14a9d5;font-weight:700;-webkit-text-stroke:1.0px #14a9d5;letter-spacing:0.55px;left:250.59px;">7,5<span style="font-size:14.54px;letter-spacing:0">%</span></span>
<span class="t" style="top:1023.5px;font-size:14px;color:#535355;font-weight:400;left:295.56px;transform:scaleX(1.1347);">Czasami</span>
<span class="t" style="top:1040.8px;font-size:14px;color:#535355;font-weight:400;left:296.05px;transform:scaleX(1.1284);">segreguję</span>
<span class="t" style="top:1071.2px;font-size:19.5px;color:#fbcba5;font-weight:700;-webkit-text-stroke:1.0px #fbcba5;letter-spacing:0.55px;left:241.80px;transform:scaleX(1.0290);">3,5<span style="font-size:14.43px;letter-spacing:0">%</span></span>
<span class="t" style="top:1076.3px;font-size:14px;color:#535355;font-weight:400;left:287.40px;transform:scaleX(1.0955);">Nie, nie segreguję</span>
<span class="t" style="top:1115.9px;font-size:19.93px;color:#f2944a;font-weight:700;-webkit-text-stroke:1.0px #f2944a;letter-spacing:0.55px;left:236.10px;transform:scaleX(0.9401);">1,6<span style="font-size:14.75px;letter-spacing:0">%</span></span>
<span class="t" style="top:1121.2px;font-size:14px;color:#535355;font-weight:400;left:278.66px;transform:scaleX(1.1353);">Nie wiem /</span>
<span class="t" style="top:1138.4px;font-size:14px;color:#535355;font-weight:400;left:279.66px;transform:scaleX(1.1179);">Trudno powiedzieć</span>
<span class="t" style="top:769.1px;font-size:15.8px;color:#fff;font-weight:700;-webkit-text-stroke:0.3px #fff;left:488.51px;transform:scaleX(1.0816);">Jakie argumenty najbardziej przekonują Cię do kupowania</span>
<span class="t" style="top:789.6px;font-size:15.8px;color:#fff;font-weight:700;-webkit-text-stroke:0.3px #fff;left:462.61px;transform:scaleX(1.0633);">produktów spożywczych w opakowaniach z tworzyw sztucznych?</span>
<span class="t" style="top:965.4px;font-size:21.96px;color:#14a9d5;font-weight:700;-webkit-text-stroke:1.15px #14a9d5;letter-spacing:0.7px;left:527.93px;transform:scaleX(1.0105);">39,4<span style="font-size:16.25px;letter-spacing:0">%</span></span>
<span class="t" style="top:965.4px;font-size:21.96px;color:#9ccde9;font-weight:700;-webkit-text-stroke:1.15px #9ccde9;letter-spacing:0.7px;left:618.52px;transform:scaleX(0.9477);">32,6<span style="font-size:16.25px;letter-spacing:0">%</span></span>
<span class="t" style="top:965.4px;font-size:21.96px;color:#f2944a;font-weight:700;-webkit-text-stroke:1.15px #f2944a;letter-spacing:0.7px;left:694.40px;transform:scaleX(0.9382);">28,7<span style="font-size:16.25px;letter-spacing:0">%</span></span>
<span class="t" style="top:965.4px;font-size:21.96px;color:#fac192;font-weight:700;-webkit-text-stroke:1.15px #fac192;letter-spacing:0.7px;left:761.59px;transform:scaleX(0.9747);">26,8<span style="font-size:16.25px;letter-spacing:0">%</span></span>
<span class="t" style="top:989.0px;font-size:21.54px;color:#20b091;font-weight:700;-webkit-text-stroke:1.15px #20b091;letter-spacing:0.7px;left:818.72px;transform:scaleX(0.8781);">11,9<span style="font-size:15.94px;letter-spacing:0">%</span></span>
<span class="t" style="top:956.9px;font-size:21.54px;color:#9dd3bf;font-weight:700;-webkit-text-stroke:1.15px #9dd3bf;letter-spacing:0.7px;left:845.08px;transform:scaleX(0.9320);">12,6<span style="font-size:15.94px;letter-spacing:0">%</span></span>
<span class="t" style="top:926.7px;font-size:21.54px;color:#eb593e;font-weight:700;-webkit-text-stroke:1.15px #eb593e;letter-spacing:0.7px;left:872.15px;transform:scaleX(0.9731);">10,8<span style="font-size:15.94px;letter-spacing:0">%</span></span>
<span class="t" style="top:1026.8px;font-size:15px;color:#535355;font-weight:400;left:528.78px;transform:scaleX(1.0413);">Możliwość poddania recyklingowi po zużyciu</span>
<span class="t" style="top:1049.6px;font-size:15px;color:#535355;font-weight:400;left:529.51px;transform:scaleX(1.0367);">Zapewnienie bezpieczeństwa przechowywanej żywności</span>
<span class="t" style="top:1072.3px;font-size:15px;color:#535355;font-weight:400;left:528.79px;transform:scaleX(1.0348);">Pochodzenie opakowań z recyklingu</span>
<span class="t" style="top:1095.5px;font-size:15px;color:#535355;font-weight:400;left:528.78px;transform:scaleX(1.0387);">Przyczynianie się do ograniczenia marnowania żywności</span>
<span class="t" style="top:1118.2px;font-size:15px;color:#535355;font-weight:400;left:529.27px;transform:scaleX(1.0412);">Całościowa niższa emisja gazów cieplarnianych niż w przypadku</span>
<span class="t" style="top:1135.1px;font-size:15px;color:#535355;font-weight:400;left:529.51px;transform:scaleX(1.0550);">opakowań z innych materiałów</span>
<span class="t" style="top:1157.9px;font-size:15px;color:#535355;font-weight:400;left:529.51px;transform:scaleX(1.0386);">Żadne z wymienionych</span>
<span class="t" style="top:1180.6px;font-size:15px;color:#535355;font-weight:400;left:528.78px;transform:scaleX(1.0398);">Nie wiem / Trudno powiedzieć</span>
<span class="t" style="top:1260.3px;font-size:15.8px;color:#fff;font-weight:700;-webkit-text-stroke:0.3px #fff;left:186.33px;transform:scaleX(1.0793);">Czy spotkałeś/spotkałaś się w ciągu ostatnich kilkunastu miesięcy z informacjami</span>
<span class="t" style="top:1281.3px;font-size:15.8px;color:#fff;font-weight:700;-webkit-text-stroke:0.3px #fff;left:194.01px;transform:scaleX(1.0811);">(np. artykuły w mediach, posty influencerów, komentarze w social mediach, itp.)</span>
<span class="t" style="top:1302.4px;font-size:15.8px;color:#fff;font-weight:700;-webkit-text-stroke:0.3px #fff;left:119.10px;transform:scaleX(1.0745);">podważającymi skuteczność recyklingu tworzyw sztucznych („ściema”, „oszustwo”, „kłamstwo”)?</span>
<span class="t" style="top:1411.8px;font-size:31.6px;color:#afdbca;font-weight:700;-webkit-text-stroke:1.6px #afdbca;letter-spacing:1.0px;left:386.22px;transform:scaleX(1.0567);">30,4<span style="font-size:23.38px;letter-spacing:0">%</span></span>
<span class="t" style="top:1444.5px;font-size:31.74px;color:#20b091;font-weight:700;-webkit-text-stroke:1.6px #20b091;letter-spacing:1.0px;left:88.89px;transform:scaleX(0.9378);">12,3<span style="font-size:23.49px;letter-spacing:0">%</span></span>
<span class="t" style="top:1576.7px;font-size:31.6px;color:#c9c9c9;font-weight:700;-webkit-text-stroke:1.6px #c9c9c9;letter-spacing:1.0px;left:30.71px;transform:scaleX(0.9291);">11,4<span style="font-size:23.38px;letter-spacing:0">%</span></span>
<span class="t" style="top:1764.7px;font-size:31.6px;color:#eb593e;font-weight:700;-webkit-text-stroke:1.6px #eb593e;letter-spacing:1.0px;left:91.33px;transform:scaleX(1.0370);">45,9<span style="font-size:23.38px;letter-spacing:0">%</span></span>
<span class="t" style="top:1876.0px;font-size:14.8px;color:#535355;font-weight:400;left:181.56px;transform:scaleX(1.0577);">Tak, było o tym głośno</span>
<span class="t" style="top:1908.9px;font-size:14.8px;color:#535355;font-weight:400;left:181.56px;transform:scaleX(1.0576);">Tak, coś o tym słyszałem/słyszałam</span>
<span class="t" style="top:1942.0px;font-size:14.8px;color:#535355;font-weight:400;left:180.58px;transform:scaleX(1.0531);">Nie, nic o tym nie słyszałem/słyszałam</span>
<span class="t" style="top:1974.9px;font-size:14.8px;color:#535355;font-weight:400;left:180.57px;transform:scaleX(1.0600);">Nie wiem / Trudno powiedzieć</span>
<span class="t" style="top:1370.4px;font-size:15.8px;color:#fff;font-weight:700;-webkit-text-stroke:0.3px #fff;left:607.13px;transform:scaleX(1.0752);">Czy wpłynęło to na Twoją motywację do</span>
<span class="t" style="top:1390.9px;font-size:15.8px;color:#fff;font-weight:700;-webkit-text-stroke:0.3px #fff;left:603.03px;transform:scaleX(1.0713);">segregowania odpadów w swoim domu?</span>
<span class="t" style="top:1723.7px;font-size:15.8px;color:#fff;font-weight:700;-webkit-text-stroke:0.3px #fff;left:548.28px;transform:scaleX(1.0878);">Czy takie informacje wpłynęłyby na Twoją motywację</span>
<span class="t" style="top:1744.2px;font-size:15.8px;color:#fff;font-weight:700;-webkit-text-stroke:0.3px #fff;left:587.68px;transform:scaleX(1.0723);">do segregowania odpadów w swoim domu?</span>
<span class="t" style="top:1443.6px;font-size:21.68px;color:#434345;font-weight:700;-webkit-text-stroke:1.15px #434345;letter-spacing:0.7px;left:715.75px;transform:scaleX(1.0778);">55,2<span style="font-size:16.04px;letter-spacing:0">%</span></span>
<span class="t" style="top:1473.6px;font-size:21.96px;color:#434345;font-weight:700;-webkit-text-stroke:1.15px #434345;letter-spacing:0.7px;left:546.99px;transform:scaleX(1.0195);">23,7<span style="font-size:16.25px;letter-spacing:0">%</span></span>
<span class="t" style="top:1603.1px;font-size:22.24px;color:#434345;font-weight:700;-webkit-text-stroke:1.15px #434345;letter-spacing:0.7px;left:530.47px;transform:scaleX(1.0191);">13,8<span style="font-size:16.46px;letter-spacing:0">%</span></span>
<span class="t" style="top:1664.0px;font-size:22.24px;color:#434345;font-weight:700;-webkit-text-stroke:1.15px #434345;letter-spacing:0.7px;left:578.68px;transform:scaleX(1.0173);">7,3<span style="font-size:16.46px;letter-spacing:0">%</span></span>
<span class="t" style="top:1801.0px;font-size:21.82px;color:#434345;font-weight:700;-webkit-text-stroke:1.15px #434345;letter-spacing:0.7px;left:707.29px;transform:scaleX(1.0072);">64,1<span style="font-size:16.15px;letter-spacing:0">%</span></span>
<span class="t" style="top:1816.5px;font-size:21.82px;color:#434345;font-weight:700;-webkit-text-stroke:1.15px #434345;letter-spacing:0.7px;left:580.79px;transform:scaleX(1.0312);">9,2<span style="font-size:16.15px;letter-spacing:0">%</span></span>
<span class="t" style="top:1854.9px;font-size:21.82px;color:#434345;font-weight:700;-webkit-text-stroke:1.15px #434345;letter-spacing:0.7px;left:538.35px;transform:scaleX(1.0892);">3,0<span style="font-size:16.15px;letter-spacing:0">%</span></span>
<span class="t" style="top:1956.4px;font-size:22.24px;color:#434345;font-weight:700;-webkit-text-stroke:1.15px #434345;letter-spacing:0.7px;left:524.08px;transform:scaleX(1.0206);">23,7<span style="font-size:16.46px;letter-spacing:0">%</span></span>
<span class="t" style="top:1478.0px;font-size:14.6px;color:#535355;font-weight:400;left:818.26px;transform:scaleX(1.0418);">Tak, bardzo zmniejszyło</span>
<span class="t" style="top:1494.7px;font-size:14.6px;color:#535355;font-weight:400;left:817.48px;transform:scaleX(1.1206);">moją motywację</span>
<span class="t" style="top:1527.5px;font-size:14.6px;color:#535355;font-weight:400;left:818.26px;transform:scaleX(1.0422);">Trochę zmniejszyło</span>
<span class="t" style="top:1544.2px;font-size:14.6px;color:#535355;font-weight:400;left:817.48px;transform:scaleX(1.1206);">moją motywację</span>
<span class="t" style="top:1576.9px;font-size:14.6px;color:#535355;font-weight:400;left:817.33px;transform:scaleX(1.0253);">Nie, nie zmniejszyło</span>
<span class="t" style="top:1593.6px;font-size:14.6px;color:#535355;font-weight:400;left:817.47px;transform:scaleX(1.1259);">mojej motywacji</span>
<span class="t" style="top:1626.4px;font-size:14.6px;color:#535355;font-weight:400;left:817.27px;transform:scaleX(1.0793);">Nie wiem / Trudno</span>
<span class="t" style="top:1643.1px;font-size:14.6px;color:#535355;font-weight:400;left:817.51px;transform:scaleX(1.0860);">powiedzieć</span>
<span class="t" style="top:1836.4px;font-size:14.6px;color:#535355;font-weight:400;left:818.26px;transform:scaleX(1.0418);">Tak, bardzo zmniejszyło</span>
<span class="t" style="top:1853.1px;font-size:14.6px;color:#535355;font-weight:400;left:817.48px;transform:scaleX(1.1206);">moją motywację</span>
<span class="t" style="top:1885.9px;font-size:14.6px;color:#535355;font-weight:400;left:818.26px;transform:scaleX(1.0422);">Trochę zmniejszyło</span>
<span class="t" style="top:1902.6px;font-size:14.6px;color:#535355;font-weight:400;left:817.48px;transform:scaleX(1.1206);">moją motywację</span>
<span class="t" style="top:1935.3px;font-size:14.6px;color:#535355;font-weight:400;left:817.33px;transform:scaleX(1.0253);">Nie, nie zmniejszyło</span>
<span class="t" style="top:1952.0px;font-size:14.6px;color:#535355;font-weight:400;left:817.47px;transform:scaleX(1.1259);">mojej motywacji</span>
<span class="t" style="top:1984.8px;font-size:14.6px;color:#535355;font-weight:400;left:817.27px;transform:scaleX(1.0793);">Nie wiem / Trudno</span>
<span class="t" style="top:2001.5px;font-size:14.6px;color:#535355;font-weight:400;left:817.51px;transform:scaleX(1.0860);">powiedzieć</span>
<span class="t" style="top:2095.2px;font-size:15.8px;color:#fff;font-weight:700;-webkit-text-stroke:0.3px #fff;left:75.40px;transform:scaleX(1.0667);">Z korzystania z jakich wyrobów codziennego użytku z tworzyw sztucznych mógłbyś/mogłabyś zrezygnować?</span>
<span class="t" style="top:2157.4px;font-size:14.8px;color:#535355;font-weight:400;left:89.50px;transform:scaleX(1.0450);">Woda w butelkach z tworzyw sztucznych</span>
<span class="t" style="top:2189.6px;font-size:14.8px;color:#535355;font-weight:400;left:88.52px;transform:scaleX(1.0586);">Ubrania zawierające poliester lub inne włókna</span>
<span class="t" style="top:2205.9px;font-size:14.8px;color:#535355;font-weight:400;left:89.02px;transform:scaleX(1.0313);">z tworzyw sztucznych</span>
<span class="t" style="top:2239.4px;font-size:14.8px;color:#535355;font-weight:400;left:88.29px;transform:scaleX(1.0426);">Produkty spożywcze w opakowaniach z tworzyw</span>
<span class="t" style="top:2255.7px;font-size:14.8px;color:#535355;font-weight:400;left:89.26px;transform:scaleX(1.0465);">sztucznych</span>
<span class="t" style="top:2288.5px;font-size:14.8px;color:#535355;font-weight:400;left:88.29px;transform:scaleX(1.0507);">Meble lub elementy wystroju wnętrza (np. krzesła,</span>
<span class="t" style="top:2304.8px;font-size:14.8px;color:#535355;font-weight:400;left:88.53px;transform:scaleX(1.0478);">lampy, doniczki itp.) wykonane z tworzyw sztucznych</span>
<span class="t" style="top:2338.3px;font-size:14.8px;color:#535355;font-weight:400;left:89.03px;transform:scaleX(1.0260);">Sprzęty AGD z elementami z tworzyw sztucznych</span>
<span class="t" style="top:2354.6px;font-size:14.8px;color:#535355;font-weight:400;left:88.77px;transform:scaleX(1.0510);">(np. obudowy odkurzaczy, telewizorów, miksery itp.)</span>
<span class="t" style="top:2387.5px;font-size:14.8px;color:#535355;font-weight:400;left:88.25px;transform:scaleX(1.0795);">Inne</span>
<span class="t" style="top:2420.3px;font-size:14.8px;color:#535355;font-weight:400;left:89.01px;transform:scaleX(1.0553);">Żadne z wymienionych</span>
<span class="t" style="top:2453.4px;font-size:14.8px;color:#535355;font-weight:400;left:88.28px;transform:scaleX(1.0579);">Nie wiem / Trudno powiedzieć</span>
<span class="t" style="top:2434.6px;font-size:14.8px;color:#434345;font-weight:700;-webkit-text-stroke:0.45px #434345;left:524.80px;transform:scaleX(1.1176);">46,6<span style="font-size:8.8px;letter-spacing:0">%</span></span>
<span class="t" style="top:2434.6px;font-size:14.8px;color:#434345;font-weight:700;-webkit-text-stroke:0.45px #434345;left:583.20px;transform:scaleX(1.0337);">44,1<span style="font-size:8.8px;letter-spacing:0">%</span></span>
<span class="t" style="top:2434.6px;font-size:14.8px;color:#434345;font-weight:700;-webkit-text-stroke:0.45px #434345;left:639.28px;transform:scaleX(1.0770);">40,7<span style="font-size:8.8px;letter-spacing:0">%</span></span>
<span class="t" style="top:2434.6px;font-size:14.8px;color:#434345;font-weight:700;-webkit-text-stroke:0.45px #434345;left:696.71px;transform:scaleX(1.0331);">27,9<span style="font-size:8.8px;letter-spacing:0">%</span></span>
<span class="t" style="top:2434.6px;font-size:14.8px;color:#434345;font-weight:700;-webkit-text-stroke:0.45px #434345;left:752.58px;transform:scaleX(1.0741);">14,4<span style="font-size:8.8px;letter-spacing:0">%</span></span>
<span class="t" style="top:2434.6px;font-size:14.8px;color:#434345;font-weight:700;-webkit-text-stroke:0.45px #434345;left:813.54px;transform:scaleX(1.1146);">0,5<span style="font-size:8.8px;letter-spacing:0">%</span></span>
<span class="t" style="top:2434.6px;font-size:14.8px;color:#434345;font-weight:700;-webkit-text-stroke:0.45px #434345;left:871.17px;transform:scaleX(1.0615);">6,3<span style="font-size:8.8px;letter-spacing:0">%</span></span>
<span class="t" style="top:2434.6px;font-size:14.8px;color:#434345;font-weight:700;-webkit-text-stroke:0.45px #434345;left:923.71px;transform:scaleX(1.0463);">10,9<span style="font-size:8.8px;letter-spacing:0">%</span></span>
<span class="t" style="top:2506.9px;font-size:12.6px;color:#555;font-weight:400;left:39.07px;transform:scaleX(1.0449);">Badanie przeprowadzone przez SW Research we wrześniu 2025 r. dla Plastics Europe Polska na próbie N=1001 respondentów (Polki i Polacy powyżej 18 roku</span>
<span class="t" style="top:2521.5px;font-size:12.6px;color:#555;font-weight:400;left:39.68px;transform:scaleX(1.0759);">życia, zgodnie z reprezentatywnym rozkładem płci, wieku i klasy wielkości miejscowości)</span>
</div></body></html>
